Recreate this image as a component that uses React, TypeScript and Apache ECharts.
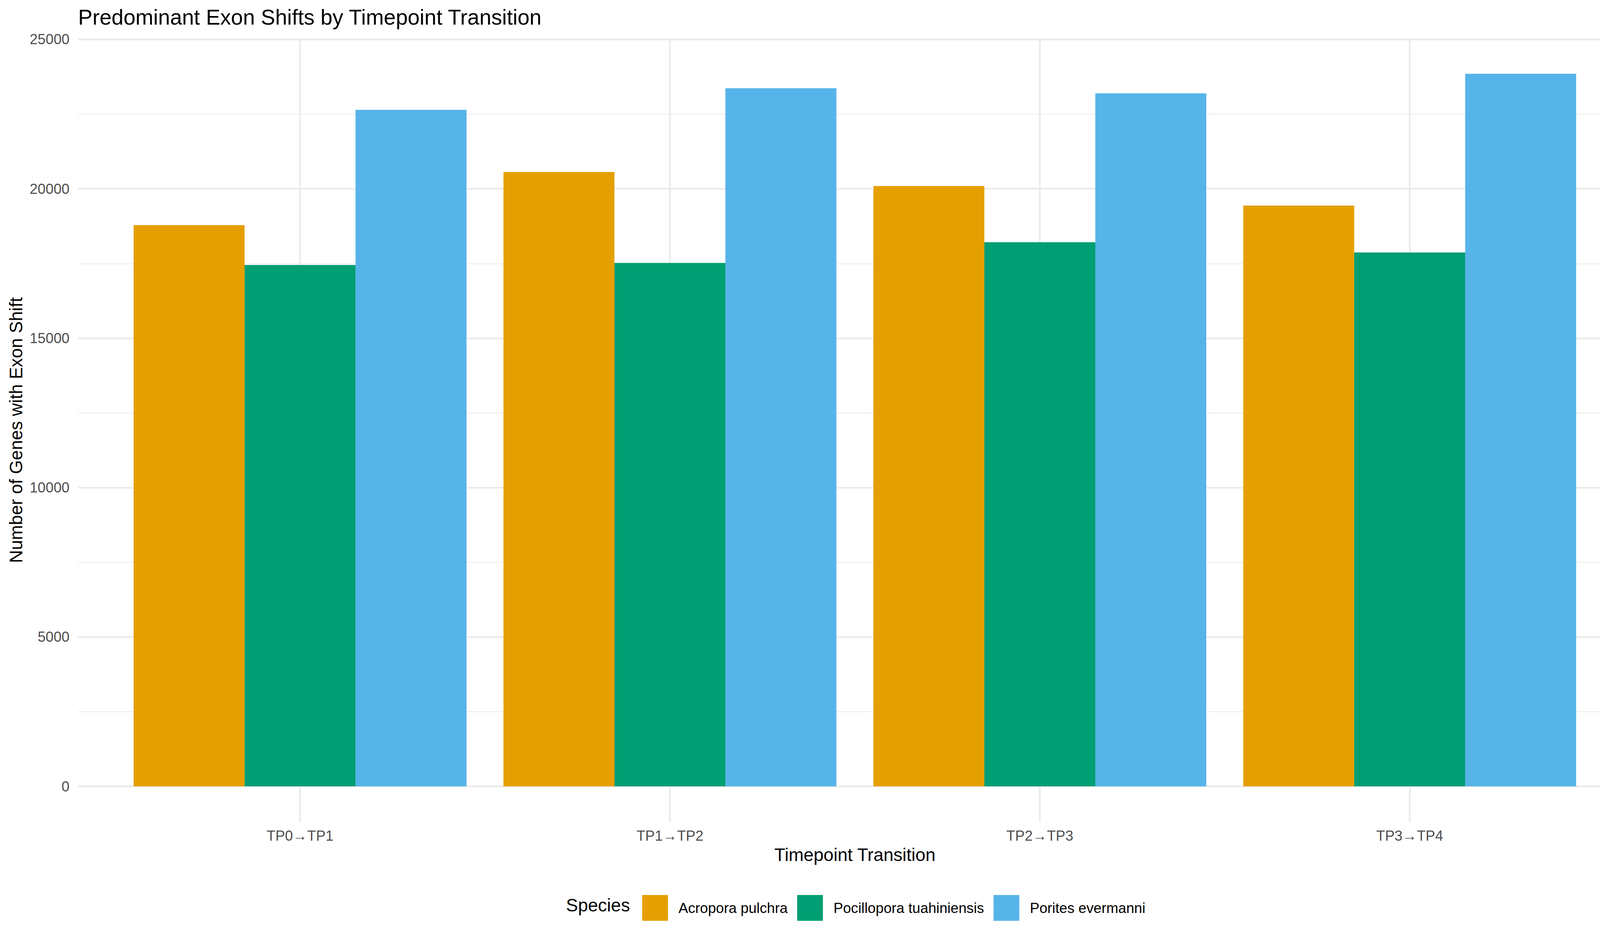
import React, { useEffect, useRef } from 'react';
import * as echarts from 'echarts';

const categories = ['TP0→TP1', 'TP1→TP2', 'TP2→TP3', 'TP3→TP4'];
const speciesNames = ['Acropora pulchra', 'Pocillopora tuahiniensis', 'Porites evermanni'];
const acropora = [18786, 20566, 20094, 19440];
const pocillopora = [17450, 17520, 18213, 17870];
const porites = [22645, 23366, 23196, 23850];
const speciesColors = ['#E69F00', '#009E73', '#56B4E9'];

const titleText = 'Predominant Exon Shifts by Timepoint Transition';
const xTitle = 'Timepoint Transition';
const yTitle = 'Number of Genes with Exon Shift';
const legendTitle = 'Species';

const FONT = '"Liberation Sans", Arial, Helvetica, sans-serif';

export default function App() {
  const ref = useRef<HTMLDivElement>(null);

  useEffect(() => {
    document.body.style.margin = '0';
    const chart = echarts.init(ref.current as HTMLDivElement, null, { renderer: 'svg' });
    const seriesValues = [acropora, pocillopora, porites];
    const dataMax = Math.max(...seriesValues.flat());
    const yMin = -0.05 * dataMax;
    const yMax = 1.05 * dataMax;

    const gridLeft = 200;
    const gridRight = 23;
    const gridTop = 97.7;
    const gridBottom = 296.8;
    const panelCenterX = (gridLeft + (4200 - gridRight)) / 2;
    const panelCenterY = (gridTop + (2400 - gridBottom)) / 2;

    const option: any = {
      animation: false,
      backgroundColor: '#FFFFFF',
      textStyle: { fontFamily: FONT },
      grid: { left: gridLeft, right: gridRight, top: gridTop, bottom: gridBottom, containLabel: false },
      xAxis: {
        type: 'value',
        min: 0.4,
        max: 4.6,
        axisLine: { show: false },
        axisTick: { show: false },
        axisLabel: {
          show: true,
          showMinLabel: false,
          showMaxLabel: false,
          margin: 35.1,
          verticalAlign: 'middle',
          fontSize: 36.7,
          fontFamily: FONT,
          color: '#4D4D4D',
          formatter: (v: number) => {
            const i = Math.round(v) - 1;
            return Math.abs(v - Math.round(v)) < 1e-6 && categories[i] ? categories[i] : '';
          },
        },
        splitLine: {
          show: true,
          showMinLine: false,
          showMaxLine: false,
          lineStyle: { color: '#EBEBEB', width: 4.4 },
        },
      },
      yAxis: {
        type: 'value',
        min: yMin,
        max: yMax,
        axisLine: { show: false },
        axisTick: { show: false },
        axisLabel: {
          show: true,
          showMinLabel: false,
          showMaxLabel: false,
          margin: 22,
          fontSize: 36.7,
          fontFamily: FONT,
          color: '#4D4D4D',
          formatter: (v: number) => String(Math.round(v) + 0),
        },
        splitLine: {
          show: true,
          showMinLine: false,
          showMaxLine: false,
          lineStyle: { color: '#EBEBEB', width: 4.4 },
        },
        minorTick: { show: false, splitNumber: 2 },
        minorSplitLine: { show: true, lineStyle: { color: '#EBEBEB', width: 2.2 } },
      },
      legend: {
        show: true,
        selectedMode: false,
        orient: 'horizontal',
        left: 1639,
        top: 2285,
        icon: 'rect',
        itemWidth: 66,
        itemHeight: 66,
        itemGap: 24.3,
        textStyle: { fontSize: 36.7, fontFamily: FONT, color: '#000000', padding: [0, 0, 0, 22] },
        data: speciesNames,
      },
      series: speciesNames.map((name, si) => ({
        type: 'bar',
        name,
        barWidth: '30%',
        barGap: '0%',
        itemStyle: { color: speciesColors[si], borderWidth: 0 },
        data: seriesValues[si].map((v, ci) => [ci + 1, v]),
      })),
      graphic: [
        {
          type: 'text',
          x: 200,
          y: 43.9,
          style: { text: titleText, fontSize: 55, fontFamily: FONT, fill: '#000000', align: 'left', verticalAlign: 'middle' },
        },
        {
          type: 'text',
          x: 41,
          y: panelCenterY,
          rotation: Math.PI / 2,
          style: { text: yTitle, fontSize: 46, fontFamily: FONT, fill: '#000000', align: 'center', verticalAlign: 'middle' },
        },
        {
          type: 'text',
          x: panelCenterX,
          y: 2187.4,
          style: { text: xTitle, fontSize: 46, fontFamily: FONT, fill: '#000000', align: 'center', verticalAlign: 'middle' },
        },
        {
          type: 'text',
          x: 1449,
          y: 2316.1,
          style: { text: legendTitle, fontSize: 46, fontFamily: FONT, fill: '#000000', align: 'left', verticalAlign: 'middle' },
        },
      ],
    };

    chart.setOption(option);
    return () => {
      chart.dispose();
    };
  }, []);

  return <div ref={ref} style={{ position: 'absolute', left: 0, top: 0, width: 4200, height: 2400 }} />;
}
